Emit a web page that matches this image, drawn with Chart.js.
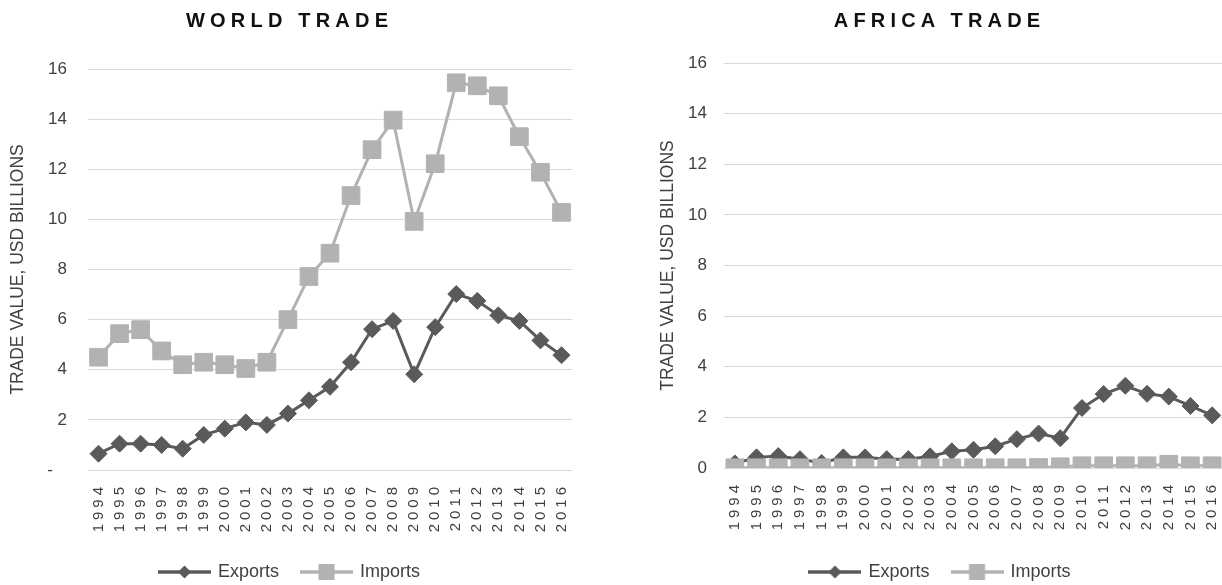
<!DOCTYPE html>
<html>
<head>
<meta charset="utf-8">
<script src="https://cdn.jsdelivr.net/npm/chart.js@4.4.0/dist/chart.umd.min.js"></script>
<style>
  html, body { margin: 0; padding: 0; background: #fff; overflow: hidden; width: 1222px; height: 585px; }
  .panel { position: absolute; top: 0; }
  .title { position: absolute; top: 9px; font: bold 20px "Liberation Sans", Arial, sans-serif;
           letter-spacing: 5.2px; padding-left: 5.2px; color: #111; white-space: nowrap;
           transform: translateX(-50%); z-index: 2; }
</style>
</head>
<body>
<div class="title" style="left:287px">WORLD TRADE</div>
<div class="title" style="left:937px">AFRICA TRADE</div>
<canvas id="worldChart" class="panel" style="left:0px" width="574" height="591"></canvas>
<canvas id="africaChart" class="panel" style="left:648px" width="575" height="591"></canvas>
<script>
// data (USD billions)
const years = ['1994', '1995', '1996', '1997', '1998', '1999', '2000', '2001', '2002', '2003', '2004',
  '2005', '2006', '2007', '2008', '2009', '2010', '2011', '2012', '2013', '2014', '2015', '2016'];

const worldExports = [0.65, 1.05, 1.05, 1.0, 0.85, 1.4, 1.65, 1.9, 1.8, 2.25, 2.78,
  3.32, 4.3, 5.62, 5.95, 3.82, 5.7, 7.02, 6.75, 6.17, 5.95, 5.17, 4.58];
const worldImports = [4.5, 5.44, 5.6, 4.75, 4.2, 4.3, 4.2, 4.05, 4.3, 6.0, 7.72,
  8.65, 10.95, 12.78, 13.96, 9.92, 12.22, 15.45, 15.33, 14.93, 13.3, 11.88, 10.28];

const africaExports = [0.18, 0.42, 0.47, 0.35, 0.2, 0.42, 0.42, 0.35, 0.35, 0.46, 0.66,
  0.72, 0.86, 1.14, 1.36, 1.18, 2.37, 2.92, 3.25, 2.93, 2.82, 2.45, 2.08];
const africaImports = [0.01, 0.01, 0.01, 0.01, 0.01, 0.01, 0.01, 0.01, 0.01, 0.01, 0.01,
  0.01, 0.01, 0.01, 0.02, 0.05, 0.09, 0.09, 0.09, 0.09, 0.15, 0.09, 0.09];

const seriesNames = ['Exports', 'Imports'];
const yAxisTitle = 'TRADE VALUE, USD BILLIONS';
const worldZeroLabel = '-   ';
const africaZeroLabel = '0';

const EXPORT_COLOR = '#5a5a5a';
const IMPORT_COLOR = '#b2b2b2';
const TEXT_COLOR = '#404040';
const FONT = '"Liberation Sans", Arial, sans-serif';

// legend swatch: line with the marker in the middle, like the spreadsheet legend
function legendIcon(color, shape) {
  const c = document.createElement('canvas');
  c.width = 53; c.height = 20;
  const g = c.getContext('2d');
  g.strokeStyle = color; g.fillStyle = color; g.lineWidth = 3.5;
  g.beginPath(); g.moveTo(0, 10); g.lineTo(53, 10); g.stroke();
  if (shape === 'diamond') {
    g.beginPath();
    g.moveTo(26.5, 3.5); g.lineTo(33, 10); g.lineTo(26.5, 16.5); g.lineTo(20, 10);
    g.closePath(); g.fill();
  } else {
    g.fillRect(18.5, 2, 16, 16);
  }
  return c;
}
const legendIcons = [legendIcon(EXPORT_COLOR, 'diamond'), legendIcon(IMPORT_COLOR, 'square')];

// spread the stacked year labels a bit, as in the reference
const spacedTicks = {
  id: 'spacedTicks',
  beforeDraw(chart) {
    const xs = chart.scales.x;
    if (xs._spaced) return;
    const orig = xs.drawLabels;
    xs.drawLabels = function (area) {
      this.ctx.save();
      this.ctx.letterSpacing = '4px';
      orig.call(this, area);
      this.ctx.restore();
    };
    xs._spaced = true;
  }
};

function makeChart(id, exportsData, importsData, o) {
  return new Chart(document.getElementById(id), {
    type: 'line',
    data: {
      labels: years,
      datasets: [{
        label: seriesNames[0],
        data: exportsData,
        borderColor: EXPORT_COLOR,
        backgroundColor: EXPORT_COLOR,
        borderWidth: 3,
        pointStyle: 'rectRot',
        pointRadius: 8.5,
        pointBorderWidth: 1,
        order: 1
      }, {
        label: seriesNames[1],
        data: importsData,
        borderColor: IMPORT_COLOR,
        backgroundColor: IMPORT_COLOR,
        borderWidth: 3,
        pointStyle: 'rect',
        pointRadius: 12.5,
        pointBorderWidth: 1,
        order: 0
      }]
    },
    plugins: [spacedTicks],
    options: {
      responsive: false,
      animation: false,
      layout: {
        autoPadding: false,
        padding: { top: o.top, left: o.left, right: o.right, bottom: 0 }
      },
      plugins: {
        title: { display: false },
        tooltip: { enabled: false },
        legend: {
          position: 'bottom',
          labels: {
            usePointStyle: true,
            pointStyleWidth: 49,
            padding: 23,
            color: TEXT_COLOR,
            font: { size: 18, family: FONT },
            generateLabels: chart => chart.data.datasets.map((ds, i) => ({
              text: ds.label,
              pointStyle: legendIcons[i],
              fillStyle: ds.borderColor,
              strokeStyle: ds.borderColor,
              lineWidth: 0,
              fontColor: TEXT_COLOR,
              hidden: false,
              datasetIndex: i
            }))
          }
        }
      },
      scales: {
        x: {
          offset: true,
          grid: { display: false, drawTicks: false },
          border: { display: false },
          ticks: {
            autoSkip: false,
            minRotation: 90,
            maxRotation: 90,
            padding: 13,
            color: TEXT_COLOR,
            font: { size: 15, family: FONT }
          },
          afterFit: s => {
            s.height = o.xHeight;
            s.paddingLeft = 0;
            s.paddingRight = 0;
          }
        },
        y: {
          min: 0,
          max: 16,
          grid: { color: '#d9d9d9', lineWidth: 1, drawTicks: false },
          border: { display: false },
          ticks: {
            stepSize: 2,
            padding: o.tickPad,
            color: TEXT_COLOR,
            font: { size: 17, family: FONT },
            callback: v => (v === 0 ? o.zero : v)
          },
          title: {
            display: true,
            text: yAxisTitle,
            color: TEXT_COLOR,
            font: { size: 17.5, family: FONT },
            padding: { top: 0, bottom: 0 }
          },
          afterFit: s => { s.width = o.yWidth; }
        }
      }
    }
  });
}

makeChart('worldChart', worldExports, worldImports,
  { top: 69, left: 8, right: 2, xHeight: 70, yWidth: 80, tickPad: 21, zero: worldZeroLabel });
makeChart('africaChart', africaExports, africaImports,
  { top: 63, left: 10, right: 0, xHeight: 72, yWidth: 66, tickPad: 17, zero: africaZeroLabel });
</script>
</body>
</html>
